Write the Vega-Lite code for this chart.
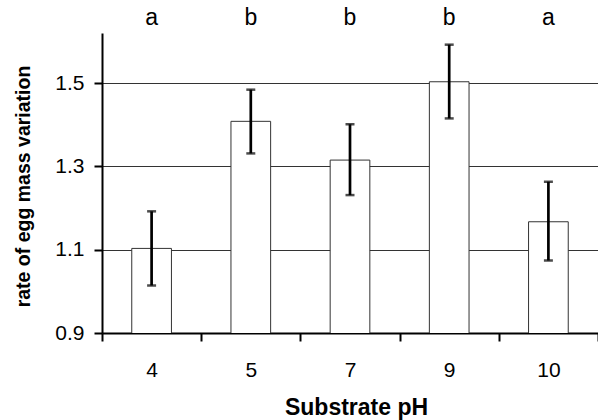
{
  "$schema": "https://vega.github.io/schema/vega-lite/v6.json",
  "autosize": "none",
  "padding": {"top": 33, "left": 102, "right": 0, "bottom": 87},
  "width": 496,
  "height": 300,
  "background": "white",
  "config": {
    "view": {"stroke": null},
    "font": "Liberation Sans",
    "axis": {
      "labelFont": "Liberation Sans",
      "titleFont": "Liberation Sans",
      "labelColor": "black",
      "titleColor": "black",
      "domainColor": "black",
      "domainWidth": 2,
      "tickColor": "black",
      "tickWidth": 2
    }
  },
  "data": {
    "values": [
      {"pH": 4, "mean": 1.103, "lo": 1.014, "hi": 1.192, "group": "a"},
      {"pH": 5, "mean": 1.408, "lo": 1.331, "hi": 1.484, "group": "b"},
      {"pH": 7, "mean": 1.315, "lo": 1.231, "hi": 1.401, "group": "b"},
      {"pH": 9, "mean": 1.503, "lo": 1.415, "hi": 1.592, "group": "b"},
      {"pH": 10, "mean": 1.167, "lo": 1.074, "hi": 1.263, "group": "a"}
    ]
  },
  "layer": [
    {
      "mark": {"type": "bar", "fill": "white", "stroke": "#333333", "strokeWidth": 1, "width": {"band": 0.4}, "clip": true},
      "encoding": {
        "x": {
          "field": "pH", "type": "ordinal", "title": "Substrate pH",
          "scale": {"paddingInner": 0, "paddingOuter": 0},
          "axis": {
            "labelAngle": 0,
            "labelFontSize": 21,
            "labelPadding": 18,
            "tickSize": 8,
            "tickBand": "extent",
            "titleFontSize": 23,
            "titleFontWeight": "bold",
            "titleX": 254,
            "titleY": 81,
            "titleBaseline": "alphabetic",
            "titleAlign": "center",
            "grid": false
          }
        },
        "y": {
          "field": "mean", "type": "quantitative", "title": "rate of egg mass variation",
          "scale": {"domain": [0.9, 1.62], "zero": false, "nice": false},
          "axis": {
            "values": [0.9, 1.1, 1.3, 1.5],
            "format": ".1f",
            "grid": true,
            "gridColor": "#333333",
            "gridWidth": 1,
            "tickSize": 8,
            "labelPadding": 10,
            "labelFontSize": 21,
            "titleFontSize": 19.5,
            "titleFontWeight": "bold",
            "titleAngle": -90,
            "titleX": -73,
            "titleY": 153,
            "titleAlign": "center",
            "titleBaseline": "alphabetic"
          }
        }
      }
    },
    {
      "mark": {"type": "rule", "color": "black", "strokeWidth": 2.7},
      "encoding": {
        "x": {"field": "pH", "type": "ordinal", "title": "Substrate pH"},
        "y": {"field": "lo", "type": "quantitative", "title": "rate of egg mass variation"},
        "y2": {"field": "hi"}
      }
    },
    {
      "mark": {"type": "tick", "orient": "horizontal", "color": "black", "size": 9, "thickness": 2.5},
      "encoding": {
        "x": {"field": "pH", "type": "ordinal", "title": "Substrate pH"},
        "y": {"field": "lo", "type": "quantitative", "title": "rate of egg mass variation"}
      }
    },
    {
      "mark": {"type": "tick", "orient": "horizontal", "color": "black", "size": 9, "thickness": 2.5},
      "encoding": {
        "x": {"field": "pH", "type": "ordinal", "title": "Substrate pH"},
        "y": {"field": "hi", "type": "quantitative", "title": "rate of egg mass variation"}
      }
    },
    {
      "mark": {"type": "text", "fontSize": 23, "baseline": "alphabetic", "align": "center", "color": "black"},
      "encoding": {
        "x": {"field": "pH", "type": "ordinal", "title": "Substrate pH"},
        "y": {"datum": 1.64, "type": "quantitative", "title": "rate of egg mass variation"},
        "text": {"field": "group"}
      }
    }
  ]
}
